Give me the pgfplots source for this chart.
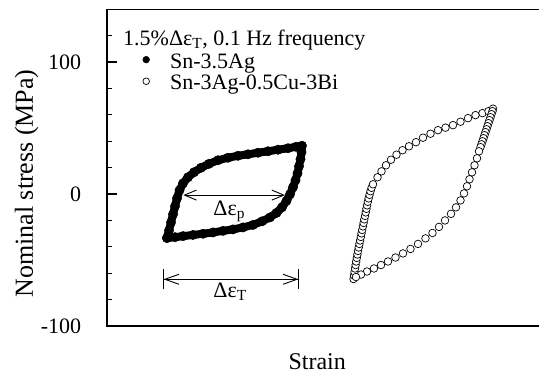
\documentclass[border=0pt]{standalone}
\usepackage{fontspec}
\setmainfont{Liberation Serif}
\usepackage{pgfplots}
\pgfplotsset{compat=1.18}
\usetikzlibrary{arrows.meta}

\pgfplotstableread{
x y
0.600 -33.3
0.620 -27.6
0.640 -21.5
0.660 -15.4
0.680 -9.3
0.700 -3.3
0.725 2.8
0.760 8.1
0.810 12.7
0.870 16.5
0.940 19.9
1.020 22.9
1.110 25.6
1.210 27.5
1.310 29.0
1.410 30.1
1.510 31.3
1.610 32.4
1.710 33.6
1.810 34.7
1.890 35.8
1.950 36.6
1.945 31.7
1.935 26.4
1.920 21.0
1.905 15.7
1.885 10.4
1.860 5.1
1.830 -0.2
1.795 -5.2
1.750 -10.1
1.695 -14.3
1.630 -17.7
1.550 -20.7
1.460 -23.4
1.360 -25.3
1.260 -26.8
1.160 -27.9
1.060 -29.1
0.960 -30.1
0.860 -31.0
0.760 -31.9
0.680 -32.7
0.600 -33.3
}\snag

\pgfplotstableread{
x y
2.465 -64.4
2.470 -61.7
2.475 -59.1
2.480 -56.4
2.486 -53.8
2.492 -51.1
2.498 -48.4
2.504 -45.8
2.510 -43.1
2.517 -40.5
2.524 -37.8
2.531 -35.2
2.538 -32.5
2.545 -29.8
2.552 -27.2
2.559 -24.5
2.566 -21.9
2.573 -19.2
2.580 -16.6
2.587 -13.9
2.594 -11.2
2.601 -8.6
2.608 -5.9
2.616 -3.3
2.625 -0.6
2.635 2.1
2.646 4.7
2.660 7.4
2.705 12.7
2.745 17.2
2.790 21.8
2.840 26.0
2.895 29.8
2.955 33.2
3.020 36.2
3.090 39.3
3.160 42.7
3.235 45.7
3.310 48.4
3.385 50.3
3.460 52.2
3.535 54.8
3.610 57.5
3.685 59.8
3.755 61.3
3.815 62.8
3.860 64.7
3.855 62.8
3.845 60.5
3.835 58.2
3.825 56.0
3.815 53.7
3.805 51.4
3.795 49.1
3.785 46.9
3.775 44.6
3.765 42.3
3.755 40.0
3.745 37.7
3.735 35.5
3.720 32.4
3.700 27.1
3.675 21.8
3.650 16.5
3.625 11.2
3.600 5.9
3.570 0.5
3.535 -4.8
3.490 -10.1
3.440 -15.0
3.380 -20.0
3.320 -24.9
3.255 -29.5
3.185 -33.6
3.110 -37.8
3.035 -41.6
2.960 -45.0
2.885 -48.1
2.810 -51.1
2.740 -53.8
2.670 -56.4
2.600 -58.7
2.540 -61.0
2.490 -62.9
}\snagcubi

\begin{document}
\begin{tikzpicture}
\begin{axis}[
  scale only axis, width=435pt, height=316.7pt,
  xmin=0, xmax=4.35, ymin=-100, ymax=140,
  xtick=\empty,
  ytick={-80,-60,-40,-20,20,40,60,80,120},
  yticklabels={},
  extra y ticks={-100,0,100},
  extra y tick style={major tick length=10pt},
  ytick pos=left, tick align=inside,
  major tick length=5.3pt,
  major tick style={line width=1.2pt, black},
  axis line style={line width=1.4pt},
  /pgf/number format/assume math mode=true,
  yticklabel style={font=\fontsize{22}{26}\selectfont, inner sep=0pt, anchor=east, xshift=-25.6pt},
  ylabel={Nominal stress (MPa)},
  ylabel style={font=\fontsize{26}{30}\selectfont, at={(axis description cs:-0.1846,0.45)}, anchor=center, inner sep=0pt},
  xlabel={Strain},
  xlabel style={font=\fontsize{24}{28}\selectfont, at={(axis description cs:0.4832,-0.1389)}, anchor=base, inner sep=0pt},
  legend image code/.code={\draw[#1] plot coordinates {(0pt,2pt)}; \path (-8.5pt,0pt) (23.7pt,0pt);},
  legend style={draw=none, fill=none, inner sep=0pt, outer sep=0pt,
    at={(axis description cs:0.0701,0.860)}, anchor=north west,
    font=\fontsize{22}{26}\selectfont, row sep=5.5pt, column sep=0pt,
    nodes={inner sep=0pt}},
  legend cell align=left,
  clip=false,
]
\addplot[forget plot, black, line width=8pt, line join=round,
  mark=*, mark size=4.7pt, mark options={line width=0.4pt, solid}] table {\snag};
\addplot[forget plot, only marks, mark=*, mark size=3.8pt,
  mark options={fill=white, draw=black, line width=0.7pt}] table {\snagcubi};

\addlegendimage{only marks, mark=*, mark size=3.4pt, black}
\addlegendentry{Sn-3.5Ag}
\addlegendimage{only marks, mark=o, mark size=3.3pt, mark options={line width=0.7pt}, black}
\addlegendentry{Sn-3Ag-0.5Cu-3Bi}

\node[anchor=base west, inner sep=0pt, font=\fontsize{22}{26}\selectfont] at (axis cs:0.16,112.9) {1.5\%Δε\textsubscript{T}, 0.1 Hz frequency};

\draw[line width=0.9pt, {Straight Barb[length=12pt,width=10pt]}-{Straight Barb[length=12pt,width=10pt]}] (axis cs:0.763,-0.8) -- (axis cs:1.78,-0.8);
\draw[line width=0.9pt, {Bar[width=20pt]Straight Barb[length=14pt,width=10pt]}-{Straight Barb[length=14pt,width=10pt]Bar[width=20pt]}] (axis cs:0.557,-64.6) -- (axis cs:1.923,-64.6);
\node[anchor=base west, inner sep=0pt, font=\fontsize{22}{26}\selectfont] at (axis cs:1.063,-15.9) {Δε\textsubscript{p}};
\node[anchor=base west, inner sep=0pt, font=\fontsize{22}{26}\selectfont] at (axis cs:1.063,-78.3) {Δε\textsubscript{T}};
\end{axis}
\pgfresetboundingbox
\path[use as bounding box] (-107pt,-48pt) rectangle (432pt,326pt);
\end{tikzpicture}
\end{document}
